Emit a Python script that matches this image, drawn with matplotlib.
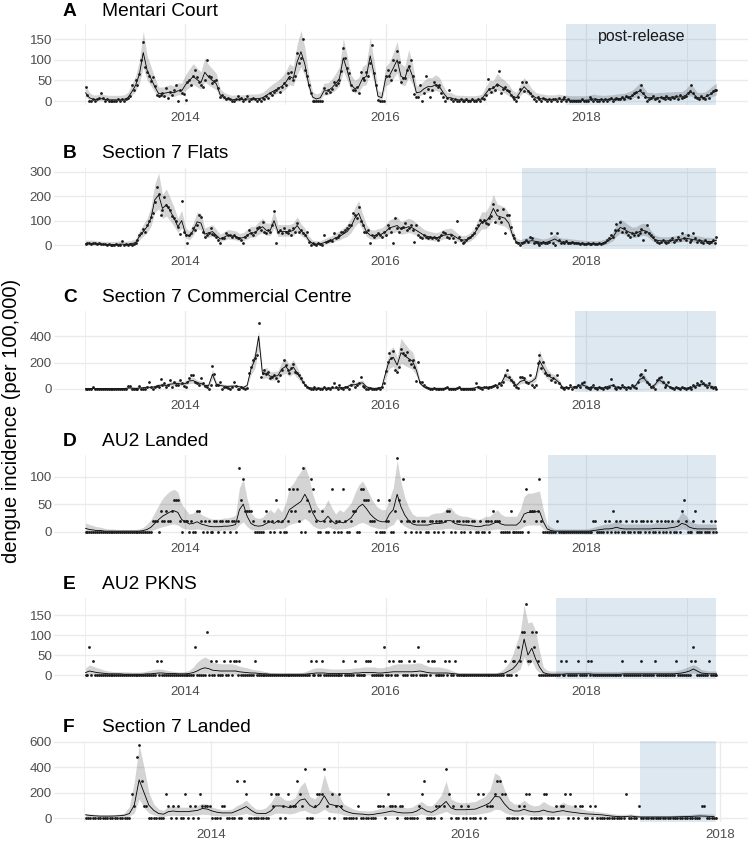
import numpy as np
import matplotlib.pyplot as plt

plt.rcParams['font.family'] = ['Liberation Sans', 'DejaVu Sans']

########## data ##########
# weekly observed incidence (per 100,000), first week = early January 2013
# model fit and its band are given every second week

mentari_obs = [33,15,0,0,4,0,4,8,19,8, 0,4,0,0,0,0,0,4,0,4, 0,4,8,12,40,26,51,40,65,100,
               143,83,70,60,48,59,36,15,12,15, 19,12,31,8,22,15,28,39,0,26, 19,16,2,47,50,40,60,75,59,47,
               40,35,50,101,60,59,43,48,51,32, 10,15,10,4,8,4,0,0,4,12, 4,8,0,4,12,0,4,8,4,0,
               4,0,8,4,12,8,19,15,23,27, 31,23,35,43,40,67,55,71,51,60, 116,92,104,150,75,60,39,20,0,0,
               0,0,0,0,31,20,26,23,30,47, 40,45,50,72,130,104,80,67,40,27, 27,35,19,71,55,51,71,60,92,136,
               67,40,2,0,0,0,61,75,60,51, 101,75,122,95,47,55,55,75,85,101, 60,17,10,10,39,0,20,61,30,10,
               27,47,40,35,39,20,10,0,8,27, 4,0,4,0,0,4,0,0,4,0, 0,4,0,0,4,0,8,4,15,54,
               30,23,35,27,40,74,20,30,35,28, 25,15,10,4,0,10,30,47,25,47, 25,20,12,5,0,10,4,0,8,4,
               0,4,0,4,4,0,8,0,4,10, 0,4,0,0,0,0,0,0,4,0, 0,0,10,4,0,4,0,0,4,0,
               4,0,4,8,0,4,8,4,4,10, 4,12,10,8,15,19,23,10,27,39, 20,10,0,4,8,12,4,8,0,10,
               8,4,12,8,4,10,8,12,4,15, 8,10,12,20,25,39,20,10,8,4, 12,8,4,15,8,20,25,27,27]
mentari_fit = [20,8,4,4,6,4,3,3,3,3, 4,8,22,38,65,118,75,55,35,18, 18,20,22,20,25,25,40,50,60,52,
               45,70,58,50,42,15,8,5,3,4, 4,4,5,5,5,6,8,14,20,25, 30,36,45,60,55,95,120,90,40,10,
               5,8,25,25,32,42,55,105,75,40, 30,35,55,60,110,65,12,8,55,62, 80,100,60,55,85,60,20,22,30,35,
               35,40,35,20,8,8,4,3,3,2, 2,2,3,5,18,30,30,42,35,30, 22,12,8,22,35,25,15,8,6,5,
               4,4,4,5,4,3,2,2,2,2, 2,3,5,4,3,3,4,4,5,6, 7,9,12,18,25,18,8,8,7,8,
               8,9,9,10,10,10,14,22,18,8, 8,9,14,20,25]
mentari_lo = [11,3,0,0,1,0,0,0,0,0, 0,3,13,24,44,82,51,37,22,10, 10,11,13,11,15,15,26,33,40,34,
              29,47,39,33,27,8,3,1,0,0, 0,0,1,1,1,1,3,7,11,15, 19,23,29,40,37,65,83,62,26,4,
              1,3,15,15,20,27,37,73,51,26, 19,22,37,40,76,44,6,3,37,42, 55,69,40,37,58,40,11,13,19,22,
              22,26,22,11,3,3,0,0,0,0, 0,0,0,1,10,19,19,27,22,19, 13,6,3,13,22,15,8,3,1,1,
              0,0,0,1,0,0,0,0,0,0, 0,0,1,0,0,0,0,0,1,1, 2,3,6,10,15,10,3,3,2,3,
              3,3,3,4,4,4,7,13,10,3, 3,3,7,11,15]
mentari_hi = [37,21,15,15,18,15,14,14,14,14, 15,21,40,61,98,170,111,84,57,34, 34,37,40,37,44,44,64,78,91,80,
              71,105,88,78,67,30,21,17,14,15, 15,15,17,17,17,18,21,29,37,44, 50,59,71,91,84,138,172,131,64,23,
              17,21,44,44,53,67,84,152,111,64, 50,57,84,91,155,98,26,21,84,94, 118,145,91,84,125,91,37,40,50,57,
              57,64,57,37,21,21,15,14,14,13, 13,13,14,17,34,50,50,67,57,50, 40,26,21,40,57,44,30,21,18,17,
              15,15,15,17,15,14,13,13,13,13, 13,14,17,15,14,14,15,15,17,18, 19,22,26,34,44,34,21,21,19,21,
              21,22,22,23,23,23,29,40,34,21, 21,22,29,37,44]

flats_obs = [5,8,8,4,8,8,4,8,4,4, 4,0,4,0,0,0,4,0,0,15, 0,4,0,4,0,4,8,20,41,50,
             65,55,82,100,116,130,177,236,211,123, 143,198,164,157,143,119,109,98,75,44, 180,55,41,7,40,50,71,60,82,123,
             115,55,34,41,50,71,45,41,34,20, 7,27,30,48,40,41,34,41,34,27, 27,20,7,34,41,61,48,41,55,68,
             75,61,95,55,48,61,55,82,139,7, 55,61,48,68,55,48,61,41,68,55, 89,55,61,48,41,55,14,0,7,4,
             0,7,4,0,41,12,15,20,15,48, 27,34,41,55,55,61,68,82,82,130, 123,109,157,100,82,55,55,61,7,41,
             34,41,48,41,34,55,41,82,68,55, 7,109,68,55,68,75,89,61,68,82, 61,14,82,41,34,30,41,34,27,34,
             30,34,27,20,34,41,55,48,34,27, 41,27,14,98,34,20,10,14,20,27, 34,41,48,71,82,102,95,102,89,85,
             109,119,170,95,143,110,93,147,48,123, 123,75,41,27,14,7,0,7,14,20, 14,34,27,7,14,7,0,7,14,7,
             10,14,50,7,0,50,20,10,14,7, 16,10,7,14,7,10,7,4,7,4, 4,7,4,4,7,4,4,7,4,10,
             14,20,27,41,34,61,85,61,95,55, 68,55,41,34,48,41,55,41,48,64, 20,55,82,48,41,34,20,14,7,14,
             20,14,7,14,20,27,14,20,34,20, 48,27,20,41,14,20,48,27,14,20, 14,7,20,14,7,14,20,7,34]
flats_fit = [6,6,6,4,3,2,2,2,2,4, 3,3,6,10,35,55,75,110,185,205, 150,165,140,110,75,100,45,35,60,95,
             90,45,50,55,40,25,32,40,38,35, 28,30,40,50,50,65,75,60,60,100, 55,55,55,55,60,80,58,45,20,6,
             4,4,10,15,20,30,35,45,55,75, 110,130,90,55,40,38,42,45,55,70, 75,80,65,70,75,70,60,50,40,35,
             32,30,32,40,42,45,35,25,20,22, 30,45,70,95,95,115,150,120,115,110, 90,40,12,8,12,15,18,15,12,10,
             12,18,25,15,12,12,10,9,8,6, 5,5,5,5,6,10,18,30,55,72, 65,55,48,48,55,60,55,35,22,18,
             17,17,18,20,22,25,28,25,22,20, 18,15,15,14,20]
flats_lo = [0,0,0,0,0,0,0,0,0,0, 0,0,0,2,21,36,51,77,134,149, 108,119,100,77,51,70,29,21,40,66,
            62,29,32,36,25,14,19,25,23,21, 16,17,25,32,32,44,51,40,40,70, 36,36,36,36,40,55,38,29,10,0,
            0,0,2,6,10,17,21,29,36,51, 77,92,62,36,25,23,26,29,36,47, 51,55,44,47,51,47,40,32,25,21,
            19,17,19,25,26,29,21,14,10,11, 17,29,47,66,66,81,107,85,81,77, 62,25,4,1,4,6,8,6,4,2,
            4,8,14,6,4,4,2,2,1,0, 0,0,0,0,0,2,8,17,36,49, 44,36,31,31,36,40,36,21,11,8,
            8,8,8,10,11,14,16,14,11,10, 8,6,6,5,10]
flats_hi = [20,20,20,17,16,15,15,15,15,17, 16,16,20,25,57,84,110,155,250,295, 207,230,194,155,110,142,70,58,90,135,
            129,70,77,84,64,44,54,64,61,58, 48,51,64,77,77,96,110,90,90,142, 84,84,84,84,90,116,87,70,38,20,
            17,17,25,32,38,51,58,70,84,110, 155,181,129,84,64,61,67,70,84,103, 110,116,96,103,110,103,90,77,64,58,
            54,51,54,64,67,70,58,44,38,41, 51,70,103,136,136,162,207,168,162,155, 129,64,28,22,28,32,35,32,28,25,
            28,35,44,32,28,28,25,24,22,20, 18,18,18,18,20,25,35,51,84,106, 96,84,74,74,84,90,84,58,41,35,
            34,34,35,38,41,44,48,44,41,38, 35,32,32,30,38]

commercial_obs = [0,0,0,0,15,0,0,0,0,0, 0,0,0,0,0,0,0,0,0,0, 0,0,23,23,0,0,0,0,20,0,
                  0,0,10,54,10,0,15,20,15,71, 25,41,10,28,69,15,54,30,25,69, 41,20,15,54,79,104,104,54,40,28,
                  79,40,20,10,0,25,176,110,25,25, 54,0,15,10,5,0,10,54,20,0, 0,10,5,0,5,122,168,219,232,257,
                  504,92,117,143,110,130,79,90,104,79, 60,104,143,219,181,143,117,155,186,130, 117,104,79,54,28,10,5,0,0,10,
                  0,5,0,0,10,0,5,0,15,41, 10,0,28,5,0,15,10,0,28,59, 15,28,41,87,20,10,0,0,5,0,
                  0,0,5,0,15,41,135,201,270,232, 288,143,130,168,303,270,257,283,219,186, 219,168,59,206,54,48,28,10,5,0,
                  0,5,0,0,0,0,0,5,15,0, 0,0,0,5,15,0,0,0,0,0, 0,0,0,41,10,5,0,10,15,5,
                  10,15,20,28,15,41,28,54,104,143, 92,66,48,28,10,5,92,92,79,54, 41,104,28,15,28,194,257,155,206,117,
                  104,104,66,84,54,104,41,15,5,0, 15,5,28,0,10,15,28,15,41,54, 15,5,0,15,28,5,0,10,5,0,
                  15,5,10,71,28,5,0,15,5,28, 10,0,15,5,28,10,5,54,104,110, 90,143,54,33,15,10,0,66,79,92,
                  54,15,28,54,15,5,0,10,5,0, 15,5,0,5,10,0,28,15,41,28, 59,41,28,15,41,15,5,15,0]
commercial_fit = [2,2,2,2,1,1,1,1,1,1, 2,5,5,3,5,8,12,10,15,25, 28,25,35,38,40,35,40,60,62,45,
                  40,25,25,110,35,25,20,18,20,20, 15,10,25,150,220,400,110,120,95,95, 100,150,170,135,165,120,75,30,8,5,
                  4,4,4,5,6,5,8,8,15,30, 30,40,45,15,5,3,4,12,120,220, 240,180,275,250,230,210,140,40,12,5,
                  3,3,3,3,3,3,3,3,3,3, 3,5,15,10,8,12,20,25,40,95, 85,55,25,55,65,45,55,80,215,160,
                  110,85,75,50,12,6,10,14,20,30, 20,8,8,8,6,8,20,25,12,10, 10,10,12,25,70,85,50,15,30,70,
                  50,30,10,5,5,5,5,5,15,25, 35,30,25,15,8]
commercial_lo = [0,0,0,0,0,0,0,0,0,0, 0,1,1,0,1,3,6,4,8,15, 17,15,22,24,26,22,26,40,42,29,
                 26,15,15,76,22,15,11,10,11,11, 8,4,15,105,155,300,76,83,65,65, 69,105,119,94,116,83,51,19,3,1,
                 0,0,0,1,1,1,3,3,8,19, 19,26,29,8,1,0,0,6,83,155, 170,127,195,177,163,148,98,26,6,1,
                 0,0,0,0,0,0,0,0,0,0, 0,1,8,4,3,6,11,15,26,65, 58,37,15,37,44,29,37,55,152,112,
                 76,58,51,33,6,1,4,7,11,19, 11,3,3,3,1,3,11,15,6,4, 4,4,6,15,47,58,33,8,19,47,
                 33,19,4,1,1,1,1,1,8,15, 22,19,15,8,3]
commercial_hi = [10,10,10,10,9,9,9,9,9,9, 10,14,14,12,14,18,24,21,28,40, 44,40,54,57,60,54,60,86,89,66,
                 60,40,40,150,54,40,34,31,34,34, 28,21,40,200,290,440,150,164,132,132, 138,203,229,184,222,164,106,47,18,14,
                 13,13,13,14,16,14,18,18,28,47, 47,60,66,28,14,12,13,24,164,294, 320,242,385,345,307,281,190,60,24,14,
                 12,12,12,12,12,12,12,12,12,12, 12,14,28,21,18,24,34,40,60,132, 118,80,40,80,92,66,80,112,295,216,
                 151,118,106,73,24,16,21,26,34,47, 34,18,18,18,16,18,34,40,24,21, 21,21,24,40,99,118,73,28,47,99,
                 73,47,21,14,14,14,14,14,28,40, 54,47,40,28,18]

# the three smaller sites: weekly case counts, one case = fixed incidence
au2_landed_cases = [0,0,0,0,0,0,0,0,0,0, 0,0,0,0,0,0,0,0,0,0, 0,0,0,0,0,0,0,0,0,0,
                    0,0,0,0,0,1,1,1,0,2, 1,1,2,1,1,2,3,3,3,1, 0,1,1,1,0,1,0,0,2,2,
                    1,0,1,0,1,0,0,1,1,0, 1,1,0,1,1,0,1,1,0,1, 6,3,5,2,2,2,2,1,0,0,
                    0,0,0,1,2,1,0,1,0,3, 1,0,1,0,0,1,4,2,4,2, 4,1,0,6,0,3,2,5,4,2,
                    1,0,0,2,1,0,0,1,4,0, 1,0,1,0,4,1,0,0,1,2, 2,0,0,4,4,3,3,3,1,1,
                    1,0,3,0,0,0,1,1,3,0, 0,2,7,3,1,5,0,1,1,0, 1,1,0,1,0,1,1,0,0,1,
                    1,0,1,0,1,1,0,1,2,2, 0,1,0,1,1,0,1,0,1,1, 0,1,1,0,0,1,0,0,1,1,
                    0,1,2,1,1,1,0,0,0,0, 0,2,0,0,0,0,0,0,1,4, 0,2,2,2,1,2,5,1,0,0,
                    0,0,0,0,0,1,0,0,0,0, 0,0,0,0,0,0,0,0,0,0, 0,0,0,0,1,1,0,0,0,0,
                    1,0,1,0,2,0,1,0,1,0, 0,1,0,0,1,0,1,0,0,1, 1,0,1,0,1,0,0,1,0,1,
                    0,1,0,1,0,1,0,0,1,0, 2,3,1,0,0,0,1,2,0,0, 0,1,0,0,0,1,0,1,0]
au2_landed_per_case = 19.2
au2_landed_fit = [6,4,3,2,2,1,1,1,1,1, 1,1,1,1,1,2,4,8,15,22, 28,32,36,38,35,22,18,14,15,18,
                  14,12,10,9,9,9,10,10,11,13, 40,50,28,15,11,10,11,15,18,15, 20,16,25,40,45,50,55,68,55,35,
                  22,18,20,28,20,14,18,16,20,25, 35,45,50,42,32,25,20,18,18,32, 40,68,45,30,20,14,12,12,12,12,
                  14,15,15,16,20,20,15,13,12,12, 11,10,9,10,12,12,15,18,14,12, 12,12,12,18,32,35,35,36,37,18,
                  5,2,1,1,1,1,1,1,1,1, 1,1,2,3,4,5,5,6,8,6, 5,5,5,5,5,5,5,5,6,6,
                  6,6,7,8,10,15,13,8,6,5, 5,5,5,5,5]
au2_landed_lo = [1,0,0,0,0,0,0,0,0,0, 0,0,0,0,0,0,1,2,4,7, 9,11,13,14,12,7,5,4,4,5,
                 4,3,3,2,2,2,3,3,3,4, 13,18,9,4,3,3,3,4,5,4, 6,5,8,13,15,17,19,24,19,11,
                 7,5,6,9,6,4,5,5,6,8, 11,15,17,14,10,8,6,5,5,10, 13,24,15,10,6,4,3,3,3,3,
                 4,4,4,5,6,6,4,4,3,3, 3,3,2,3,3,3,4,5,4,3, 3,3,3,5,10,12,12,12,12,5,
                 1,0,0,0,0,0,0,0,0,0, 0,0,0,1,1,1,1,2,2,2, 1,1,1,1,1,1,1,1,2,2,
                 2,2,2,2,3,5,4,2,2,1, 1,1,1,1,1]
au2_landed_hi = [16,13,11,9,8,6,5,5,4,4, 4,4,4,4,5,8,14,22,35,48, 60,68,74,77,72,50,40,32,34,40,
                 32,28,25,23,23,23,25,25,27,30, 80,95,60,34,26,24,26,34,40,34, 44,36,52,80,88,100,110,120,100,70,
                 48,40,44,58,44,32,40,36,44,52, 70,85,92,80,65,52,44,40,40,60, 80,130,90,62,44,32,28,28,28,28,
                 32,34,34,36,44,44,34,30,28,28, 26,24,22,24,28,28,34,40,32,28, 28,28,28,40,64,70,70,72,74,40,
                 14,8,5,5,5,5,5,5,5,5, 5,6,8,10,12,14,14,16,20,16, 14,14,14,14,14,14,14,14,16,16,
                 16,16,18,20,24,36,30,20,16,14, 14,14,14,14,14]

au2_pkns_cases = [0,0,2,0,1,0,0,0,0,0, 0,0,0,0,0,0,0,0,0,0, 0,0,0,0,0,0,0,0,0,0,
                  0,0,0,0,0,0,0,1,0,1, 0,0,0,0,0,0,0,0,0,0, 0,0,0,0,0,0,0,2,0,0,
                  0,0,0,3,0,1,0,0,1,0, 0,0,1,0,0,1,0,1,1,0, 1,0,0,0,0,0,0,0,1,0,
                  0,0,0,0,0,0,0,0,0,0, 0,0,0,0,0,0,0,0,0,0, 0,0,0,0,0,0,0,1,0,0,
                  1,0,0,1,0,0,0,0,0,0, 0,0,0,0,1,0,0,0,0,0, 1,0,0,0,0,0,1,1,1,0,
                  0,0,0,0,0,2,0,0,1,0, 1,0,0,1,1,0,0,0,1,0, 0,1,0,2,0,0,0,0,1,0,
                  1,1,0,0,0,0,0,1,0,1, 0,0,1,0,0,0,0,0,0,0, 0,0,0,0,0,0,0,0,0,0,
                  0,0,0,0,0,0,0,0,1,0, 0,0,1,1,0,2,1,3,3,5, 1,1,3,2,3,1,0,0,0,0,
                  0,0,0,0,0,0,0,1,0,0, 1,0,0,0,0,0,1,0,0,0, 0,1,0,1,0,0,0,0,0,0,
                  0,0,0,0,0,0,0,0,0,1, 0,0,0,0,0,0,0,0,0,1, 0,0,0,0,0,0,1,0,0,0,
                  0,0,0,0,0,0,0,1,0,0, 0,0,0,0,0,1,2,1,0,0, 0,0,0,0,1,0,0,0,0]
au2_pkns_per_case = 35.5
au2_pkns_fit = [6,10,8,6,5,4,3,3,3,3, 2,2,2,2,2,2,3,3,4,5, 5,4,4,4,3,3,3,4,6,10,
                15,18,16,12,11,10,10,10,10,10, 8,7,6,5,5,4,3,3,2,2, 2,2,2,2,2,2,2,2,3,4,
                5,5,5,4,4,4,4,4,4,4, 5,5,6,6,6,6,5,5,6,7, 8,8,8,8,8,8,9,10,8,6,
                5,5,5,5,5,4,3,2,2,2, 2,2,2,2,2,2,2,2,3,5, 10,15,25,40,90,50,67,40,20,6,
                3,2,2,2,2,3,3,3,3,3, 3,3,2,2,2,2,2,2,2,2, 3,3,3,3,3,3,3,3,3,3,
                3,3,3,3,4,5,7,10,15,10, 5,4,3,3,3]
au2_pkns_lo = [1,2,2,1,1,1,0,0,0,0, 0,0,0,0,0,0,0,0,0,1, 1,0,0,0,0,0,0,0,1,2,
               4,5,4,3,2,2,2,2,2,2, 2,1,1,1,1,0,0,0,0,0, 0,0,0,0,0,0,0,0,0,1,
               1,1,1,1,1,1,1,1,1,1, 1,1,1,1,1,1,1,1,1,1, 2,2,2,2,2,2,2,2,2,1,
               1,1,1,1,1,1,0,0,0,0, 0,0,0,0,0,0,0,0,0,1, 2,4,8,15,45,22,35,15,6,1,
               0,0,0,0,0,0,0,0,0,0, 0,0,0,0,0,0,0,0,0,0, 0,0,0,0,0,0,0,0,0,0,
               0,0,0,0,1,1,2,3,5,3, 1,1,0,0,0]
au2_pkns_hi = [18,25,22,18,15,12,10,9,8,8, 8,8,7,7,7,8,10,12,14,15, 14,12,10,9,8,8,9,12,20,32,
               40,45,40,32,30,28,28,28,28,26, 22,20,18,15,13,12,10,8,6,6, 5,5,5,5,5,5,6,8,12,16,
               18,18,17,16,15,15,15,15,16,16, 18,18,20,20,20,20,18,18,20,22, 26,28,28,28,28,28,30,30,26,22,
               20,20,20,18,16,12,8,5,5,5, 5,5,5,5,5,5,5,6,10,18, 30,50,80,108,175,130,133,110,60,20,
               12,10,10,10,10,10,10,10,10,10, 10,10,9,9,9,9,9,9,9,9, 10,10,10,10,10,10,10,10,10,10,
               10,10,10,10,12,14,18,22,26,22, 14,12,10,10,10]

s7_landed_cases = [0,0,0,0,0,0,0,0,0,0, 0,0,0,0,0,0,0,0,0,2, 1,5,6,3,1,1,0,0,0,0,
                   0,0,0,2,1,0,1,0,1,0, 0,2,0,1,0,1,0,2,1,1, 1,1,0,0,0,0,1,1,0,0,
                   0,0,3,0,0,3,2,0,0,0, 0,0,0,0,0,0,2,1,2,2, 0,1,0,2,1,1,1,3,2,1,
                   4,0,0,0,1,2,2,2,4,1, 0,2,0,1,2,1,0,0,0,0, 0,0,1,0,0,0,0,0,0,0,
                   1,1,1,0,2,1,1,1,0,1, 1,0,0,0,0,0,0,1,2,3, 0,0,0,0,1,1,0,1,4,2,
                   0,1,0,0,1,0,0,1,0,0, 0,2,0,2,0,1,1,1,2,3, 3,2,2,0,0,0,0,0,1,0,
                   1,2,2,0,0,0,0,0,2,2, 0,0,0,1,0,1,1,2,0,2, 0,1,0,1,1,0,0,1,0,1,
                   0,0,0,0,0,0,0,0,0,0, 0,0,2,0,0,0,0,1,0,0, 0,0,0,0,0,0,0,0,0,0,
                   0,0,0,0,0,0,0,0,0,0, 0,0,0,1,1,0,0,0,0,0]
s7_landed_per_case = 96
s7_landed_fit = [25,20,17,15,15,15,16,18,22,35, 100,300,200,100,60,35,30,50,55,50, 50,50,55,60,75,70,55,45,40,40,
                 40,55,72,90,60,38,35,35,55,95, 95,90,80,100,140,150,100,80,110,175, 110,100,95,60,45,35,32,30,25,28,
                 35,40,48,55,45,40,40,42,55,80, 55,45,65,95,130,80,65,65,65,68, 70,85,100,120,170,165,110,70,55,55,
                 68,55,48,50,62,50,45,52,58,50, 45,40,35,32,30,27,25,20,15,12, 10,12,15,10,8,8,8,8,8,8,
                 8,9,10,11,12,14,16,15,13,12]
s7_landed_lo = [10,8,7,6,6,6,6,7,9,14, 40,150,80,40,24,14,12,20,22,20, 20,20,22,24,30,28,22,18,16,16,
                16,22,29,36,24,15,14,14,22,38, 38,36,32,40,56,60,40,32,44,70, 44,40,38,24,18,14,13,12,10,11,
                14,16,19,22,18,16,16,17,22,32, 22,18,26,38,52,32,26,26,26,27, 28,34,40,48,68,66,44,28,22,22,
                27,22,19,20,25,20,18,21,23,20, 18,16,14,13,12,11,10,8,6,5, 4,5,6,4,3,3,3,3,3,3,
                3,4,4,4,5,6,6,6,5,5]
s7_landed_hi = [37,32,28,25,25,25,26,30,40,90, 280,575,400,200,110,70,60,90,95,88, 85,85,90,100,115,110,85,75,65,65,
                70,95,115,140,100,70,68,80,120,180, 170,140,140,160,246,285,170,150,190,343, 220,200,180,110,90,70,60,58,55,60,
                70,80,100,110,95,85,80,85,110,130, 100,95,130,180,290,150,130,120,120,125, 130,150,170,220,355,330,220,140,110,110,
                140,110,95,100,130,105,90,100,125,105, 100,85,70,60,55,50,45,40,35,30, 28,30,32,25,20,20,20,20,20,20,
                20,22,24,26,28,32,35,34,32,30]

# start of the post-release period (decimal year)
release_start = [2017.80, 2017.36, 2017.89, 2017.62, 2017.70, 2017.37]
year_labels = [2014, 2016, 2018]

########## layout ##########
W, H = 750, 842
panels = [
    dict(tag='A', name='Mentari Court', obs=mentari_obs, scale=1, fit=mentari_fit, lo=mentari_lo, hi=mentari_hi,
         yticks=[0, 50, 100, 150], ylim=(-8.9, 186.6), px=(24.3, 104.7), title_y=16),
    dict(tag='B', name='Section 7 Flats', obs=flats_obs, scale=1, fit=flats_fit, lo=flats_lo, hi=flats_hi,
         yticks=[0, 100, 200, 300], ylim=(-15, 314.3), px=(168.3, 248.7), title_y=158.3),
    dict(tag='C', name='Section 7 Commercial Centre', obs=commercial_obs, scale=1, fit=commercial_fit,
         lo=commercial_lo, hi=commercial_hi, yticks=[0, 200, 400], ylim=(-28, 593), px=(311, 392.4), title_y=302.3),
    dict(tag='D', name='AU2 Landed', obs=au2_landed_cases, scale=au2_landed_per_case, fit=au2_landed_fit,
         lo=au2_landed_lo, hi=au2_landed_hi, yticks=[0, 50, 100], ylim=(-6.6, 139.3), px=(455, 535.3), title_y=445.7),
    dict(tag='E', name='AU2 PKNS', obs=au2_pkns_cases, scale=au2_pkns_per_case, fit=au2_pkns_fit,
         lo=au2_pkns_lo, hi=au2_pkns_hi, yticks=[0, 50, 100, 150], ylim=(-9, 191.75), px=(598.3, 678.6), title_y=589),
    dict(tag='F', name='Section 7 Landed', obs=s7_landed_cases, scale=s7_landed_per_case, fit=s7_landed_fit,
         lo=s7_landed_lo, hi=s7_landed_hi, yticks=[0, 200, 400, 600], ylim=(-29, 605), px=(741, 821.7), title_y=732.3),
]

fig = plt.figure(figsize=(7.5, 8.42), dpi=100)

for k, p in enumerate(panels):
    top, bot = p['px']
    ax = fig.add_axes([54 / W, 1 - bot / H, 694 / W, (bot - top) / H])

    obs = np.asarray(p['obs'], float) * p['scale']
    t = 2013.01 + np.arange(len(obs)) * 7 / 365.25
    n = min(len(p['fit']), len(p['lo']), len(p['hi']))
    t2 = 2013.01 + np.arange(n) * 14 / 365.25

    ax.axvspan(release_start[k], t[-1], color='#4682b4', alpha=0.18, lw=0, zorder=1)
    ax.fill_between(t2, p['lo'][:n], p['hi'][:n], color='black', alpha=0.17, lw=0, zorder=2)
    ax.plot(t2, p['fit'][:n], color='black', lw=0.6, zorder=3)
    ax.scatter(t, obs, s=4, color='#1a1a1a', lw=0, zorder=4)

    # ticks first, limits after, so the ticks cannot widen the view
    ax.set_xticks(year_labels)
    ax.set_xticks([y for y in range(2013, int(t[-1]) + 1, 2)], minor=True)
    ax.set_yticks(p['yticks'])
    span = t[-1] - t[0]
    ax.set_xlim(t[0] - 0.05 * span, t[-1] + 0.05 * span)
    ax.set_ylim(*p['ylim'])

    ax.tick_params(which='both', length=0, labelsize=9.6, colors='#4d4d4d')
    ax.tick_params(axis='x', pad=5.5)
    ax.tick_params(axis='y', pad=1.5)
    ax.grid(which='major', color='#ebebeb', lw=1.0)
    ax.grid(which='minor', axis='x', color='#ebebeb', lw=0.6)
    ax.set_axisbelow(True)
    for s in ax.spines.values():
        s.set_visible(False)

    fig.text(63 / W, 1 - p['title_y'] / H, p['tag'], fontsize=13.8, fontweight='bold', va='baseline')
    fig.text(102 / W, 1 - p['title_y'] / H, p['name'], fontsize=13.8, va='baseline')

    if k == 0:
        ax.text((release_start[0] + t[-1]) / 2, 156, 'post-release', fontsize=11.4,
                ha='center', va='center', color='#1a1a1a', zorder=5)

fig.text(12 / W, 1 - 421 / H, 'dengue incidence (per 100,000)', fontsize=14.5,
         rotation=90, ha='center', va='center')

plt.savefig('out.png', dpi=100)
